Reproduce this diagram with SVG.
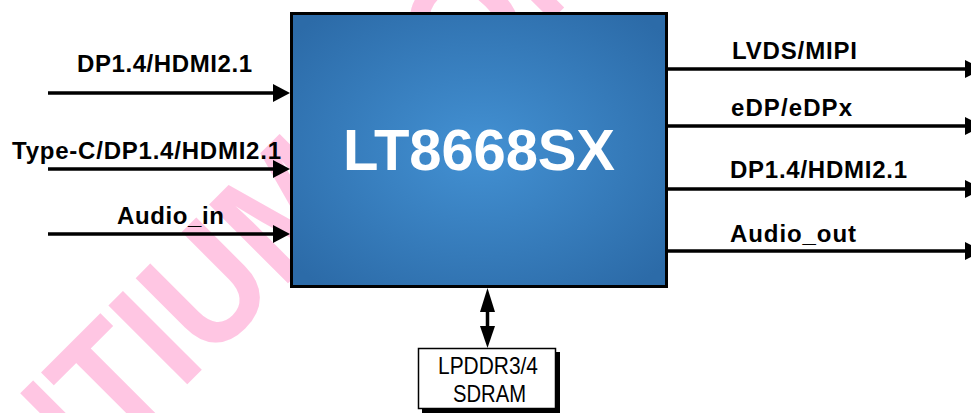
<svg xmlns="http://www.w3.org/2000/svg" width="971" height="413" viewBox="0 0 971 413">
  <defs>
    <radialGradient id="chipFill" cx="50%" cy="50%" r="65%">
      <stop offset="0" stop-color="#4391D3"/>
      <stop offset="1" stop-color="#2C6BA8"/>
    </radialGradient>
    <style>
      .lbl { font-family: "Liberation Sans", Arial, sans-serif; font-weight: bold; font-size: 24px; fill: #000; }
      .wire { stroke: #000; stroke-width: 3.5; fill: none; }
      .head { fill: #000; }
      .mem { font-family: "Liberation Sans Narrow", "Liberation Sans", Arial, sans-serif; font-size: 24px; fill: #000; }
      .wm { font-family: "Liberation Sans", Arial, sans-serif; font-weight: bold; font-size: 162px; fill: #FFC6E3; }
    </style>
  </defs>
  <rect width="971" height="413" fill="#fff"/>
  <g id="watermark" transform="rotate(-45) scale(0.88 1)">
    <text class="wm" x="-610" y="404">LONTIUM CONFIDENTIAL</text>
  </g>
  <g id="connectors">
    <line class="wire" x1="48" y1="93" x2="276" y2="93"/>
    <polygon class="head" points="273,84 290,93 273,102"/>
    <line class="wire" x1="48" y1="169" x2="276" y2="169"/>
    <polygon class="head" points="273,160 290,169 273,178"/>
    <line class="wire" x1="48" y1="234" x2="276" y2="234"/>
    <polygon class="head" points="273,225 290,234 273,243"/>
    <line class="wire" x1="667" y1="69" x2="968" y2="69"/>
    <polygon class="head" points="965,60 983,69 965,78"/>
    <line class="wire" x1="667" y1="126" x2="968" y2="126"/>
    <polygon class="head" points="965,117 983,126 965,135"/>
    <line class="wire" x1="667" y1="189" x2="968" y2="189"/>
    <polygon class="head" points="965,180 983,189 965,198"/>
    <line class="wire" x1="667" y1="251" x2="968" y2="251"/>
    <polygon class="head" points="965,242 983,251 965,260"/>
    <line class="wire" x1="487.5" y1="305" x2="487.5" y2="331"/>
    <polygon class="head" points="487.5,288 495,312 480,312"/>
    <polygon class="head" points="480,326 495,326 487.5,348"/>
  </g>
  <g id="labels">
    <text class="lbl" x="77" y="72" textLength="175">DP1.4/HDMI2.1</text>
    <text class="lbl" x="12" y="159" textLength="269">Type-C/DP1.4/HDMI2.1</text>
    <text class="lbl" x="117" y="224" textLength="107">Audio_in</text>
    <text class="lbl" x="732" y="59" textLength="125">LVDS/MIPI</text>
    <text class="lbl" x="731" y="116" textLength="121">eDP/eDPx</text>
    <text class="lbl" x="730" y="178" textLength="177">DP1.4/HDMI2.1</text>
    <text class="lbl" x="730" y="242" textLength="126">Audio_out</text>
  </g>
  <g id="chip">
    <rect x="291.5" y="13.5" width="375" height="273" fill="url(#chipFill)" stroke="#000" stroke-width="3"/>
    <text x="479" y="170" text-anchor="middle" font-family="Liberation Sans, Arial, sans-serif" font-weight="bold" font-size="58" fill="#fff" textLength="272">LT8668SX</text>
  </g>
  <g id="sdram">
    <rect x="422" y="352" width="138" height="61" fill="#000"/>
    <rect x="418.5" y="348.5" width="137" height="60" fill="#fff" stroke="#000" stroke-width="1.5"/>
    <text class="mem" x="438" y="374" textLength="100" lengthAdjust="spacingAndGlyphs">LPDDR3/4</text>
    <text class="mem" x="453" y="402" textLength="73" lengthAdjust="spacingAndGlyphs">SDRAM</text>
  </g>
</svg>
